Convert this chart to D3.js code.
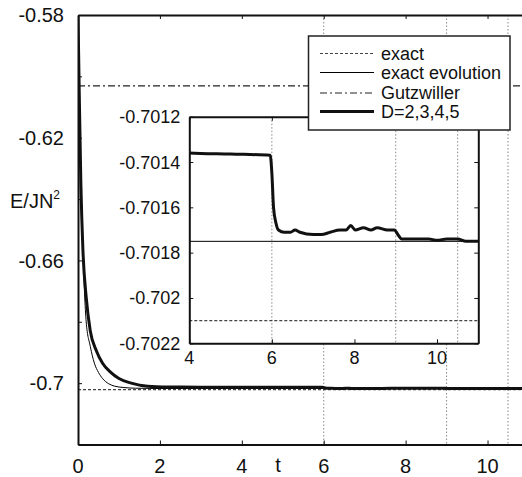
<!DOCTYPE html>
<html>
<head>
<meta charset="utf-8">
<script src="https://cdn.jsdelivr.net/npm/d3@7"></script>
<style>
html,body{margin:0;padding:0;background:#fff;}
svg{display:block;font-family:"Liberation Sans",Arial,Helvetica,sans-serif;}
</style>
</head>
<body>
<svg id="chart" width="522" height="477"></svg>
<script>
// ---- data ----
const dTimes = [0,0.03,0.07,0.12,0.2,0.3,0.45,0.6,0.8,1.0,1.3,1.7,2.2,3.0,4.0,5.0,5.96,6.0,6.04,6.1,6.16,6.3,6.45,6.56,6.68,7.0,7.2,7.41,7.65,7.8,7.91,8.02,8.22,8.4,8.55,8.8,8.97,9.05,9.15,9.35,9.8,10.0,10.24,10.5,10.7,11];
const dValues = [-0.58,-0.605,-0.635,-0.6566,-0.672,-0.683,-0.6895,-0.6935,-0.6965,-0.6985,-0.7,-0.701,-0.70125,-0.70132,-0.70136,-0.701365,-0.70137,-0.70145,-0.7016,-0.70167,-0.7017,-0.70171,-0.70171,-0.7017,-0.70171,-0.70172,-0.70172,-0.70171,-0.7017,-0.7017,-0.70168,-0.7017,-0.70169,-0.7017,-0.70169,-0.7017,-0.7017,-0.70172,-0.70174,-0.70174,-0.70174,-0.701745,-0.70174,-0.70174,-0.70175,-0.70175];
const evoTimes = [0,0.03,0.07,0.12,0.2,0.3,0.4,0.5,0.6,0.75,0.9,1.1,1.4,2.0,11];
const evoValues = [-0.58,-0.605,-0.635,-0.657,-0.68,-0.688,-0.6935,-0.6965,-0.6985,-0.7002,-0.701,-0.7014,-0.70165,-0.70175,-0.70175];
const exactValue = -0.7021;
const gutzwillerValue = -0.6031;
const markerTimes = [6, 9, 10.5];

const mainXTicks = [0,2,4,6,8,10];
const mainYTicks = [-0.72,-0.7,-0.68,-0.66,-0.64,-0.62,-0.6,-0.58];
const mainYLabels = ["","-0.7","","-0.66","","-0.62","","-0.58"];
const insetXTicks = [4,6,8,10];
const insetYTicks = [-0.7022,-0.702,-0.7018,-0.7016,-0.7014,-0.7012];
const insetYLabels = ["-0.7022","-0.702","-0.7018","-0.7016","-0.7014","-0.7012"];
const legendLabels = ["exact","exact evolution","Gutzwiller","D=2,3,4,5"];

// ---- layout ----
const svg = d3.select("#chart");
const M = {left:78, top:15, right:528.5, bottom:444.5};
const x = d3.scaleLinear().domain([0,11]).range([M.left, M.right]);
const y = d3.scaleLinear().domain([-0.72,-0.58]).range([M.bottom, M.top]);
const I = {left:189.3, top:116.7, right:478.3, bottom:343.3};
const xi = d3.scaleLinear().domain([4,11]).range([I.left, I.right]);
const yi = d3.scaleLinear().domain([-0.7022,-0.7012]).range([I.bottom, I.top]);

const dData = dTimes.map((t,i)=>[t,dValues[i]]);
const evoData = evoTimes.map((t,i)=>[t,evoValues[i]]);

const defs = svg.append("defs");
defs.append("clipPath").attr("id","clipMain").append("rect")
  .attr("x",M.left).attr("y",M.top).attr("width",M.right-M.left).attr("height",M.bottom-M.top);
defs.append("clipPath").attr("id","clipInset").append("rect")
  .attr("x",I.left).attr("y",I.top).attr("width",I.right-I.left).attr("height",I.bottom-I.top);

const styles = {
  exact: {stroke:"#444", width:1.1, dash:"3,2"},
  evo: {stroke:"#000", width:1, dash:null},
  gutz: {stroke:"#222", width:1.1, dash:"7,3,2,3"},
  d: {stroke:"#111", width:3, dash:null}
};

function drawPanel(g, xs, ys, clipId, xTicks, yTicks, yLabels, fontSize, labelGap, xLabelY) {
  const p = g.append("g").attr("clip-path", `url(#${clipId})`);
  const [x0,x1] = xs.range(); const [y0,y1] = ys.range();
  p.selectAll(".mk").data(markerTimes).enter().append("line")
    .attr("x1",d=>xs(d)).attr("x2",d=>xs(d)).attr("y1",y1).attr("y2",y0)
    .attr("stroke","#888").attr("stroke-width",1).attr("stroke-dasharray","1.5,2");
  p.append("line").attr("x1",x0).attr("x2",x1).attr("y1",ys(exactValue)).attr("y2",ys(exactValue))
    .attr("stroke",styles.exact.stroke).attr("stroke-width",styles.exact.width).attr("stroke-dasharray",styles.exact.dash);
  p.append("line").attr("x1",x0).attr("x2",x1).attr("y1",ys(gutzwillerValue)).attr("y2",ys(gutzwillerValue))
    .attr("stroke",styles.gutz.stroke).attr("stroke-width",styles.gutz.width).attr("stroke-dasharray",styles.gutz.dash);
  const line = d3.line().x(d=>xs(d[0])).y(d=>ys(d[1])).curve(d3.curveMonotoneX);
  p.append("path").attr("d",line(evoData)).attr("fill","none")
    .attr("stroke",styles.evo.stroke).attr("stroke-width",styles.evo.width);
  p.append("path").attr("d",line(dData)).attr("fill","none")
    .attr("stroke",styles.d.stroke).attr("stroke-width",styles.d.width).attr("stroke-linejoin","round");

  const ax = g.append("g");
  const bottom = ax.append("g").attr("transform",`translate(0,${y0})`)
    .call(d3.axisBottom(xs).tickValues(xTicks).tickSizeInner(-4).tickSizeOuter(0).tickPadding(0).tickFormat(""));
  const top = ax.append("g").attr("transform",`translate(0,${y1})`)
    .call(d3.axisTop(xs).tickValues(xTicks).tickSizeInner(-4).tickSizeOuter(0).tickFormat(""));
  const left = ax.append("g").attr("transform",`translate(${x0},0)`)
    .call(d3.axisLeft(ys).tickValues(yTicks).tickSizeInner(-4).tickSizeOuter(0).tickFormat(""));
  const right = ax.append("g").attr("transform",`translate(${x1},0)`)
    .call(d3.axisRight(ys).tickValues(yTicks).tickSizeInner(-4).tickSizeOuter(0).tickFormat(""));
  [bottom,top,left,right].forEach(a=>{
    a.select(".domain").attr("stroke","#111").attr("stroke-width",2);
    a.selectAll(".tick line").attr("stroke","#111").attr("stroke-width",1);
  });
  g.append("g").selectAll("text").data(xTicks).enter().append("text")
    .attr("x",d=>xs(d)).attr("y",xLabelY).attr("text-anchor","middle")
    .attr("font-size",fontSize).attr("fill","#111").text(d=>String(d));
  g.append("g").selectAll("text").data(yTicks).enter().append("text")
    .attr("x",x0-labelGap).attr("y",d=>ys(d)).attr("dy","0.36em").attr("text-anchor","end")
    .attr("font-size",fontSize).attr("fill","#111").text((d,i)=>yLabels[i]);
}

const gMain = svg.append("g");
drawPanel(gMain, x, y, "clipMain", mainXTicks, mainYTicks, mainYLabels, 20, 14, 473);

const yl = svg.append("text").attr("x",10).attr("y",208).attr("font-size",20).attr("fill","#111");
yl.append("tspan").text("E/JN");
yl.append("tspan").attr("font-size",12).attr("dy","-9").text("2");
svg.append("text").attr("x",278).attr("y",472).attr("text-anchor","middle")
  .attr("font-size",20).attr("fill","#111").text("t");

const gIn = svg.append("g");
gIn.append("rect").attr("x",I.left).attr("y",I.top).attr("width",I.right-I.left).attr("height",I.bottom-I.top).attr("fill","#fff");
drawPanel(gIn, xi, yi, "clipInset", insetXTicks, insetYTicks, insetYLabels, 18, 9, 364);

const L = {x:308.5, y:36, w:201.5, h:94};
const gL = svg.append("g");
gL.append("rect").attr("x",L.x).attr("y",L.y).attr("width",L.w).attr("height",L.h)
  .attr("fill","#fff").attr("stroke","#222").attr("stroke-width",1.5);
const legStyles = [styles.exact, styles.evo, styles.gutz, styles.d];
const rowY = [53.5, 72.5, 93, 111.5];
legendLabels.forEach((lab,i)=>{
  const s = legStyles[i];
  gL.append("line").attr("x1",320).attr("x2",374).attr("y1",rowY[i]).attr("y2",rowY[i])
    .attr("stroke",s.stroke).attr("stroke-width",s.width).attr("stroke-dasharray",s.dash);
  gL.append("text").attr("x",381).attr("y",rowY[i]).attr("dy","0.36em")
    .attr("font-size",18).attr("fill","#111").text(lab);
});
</script>
</body>
</html>
